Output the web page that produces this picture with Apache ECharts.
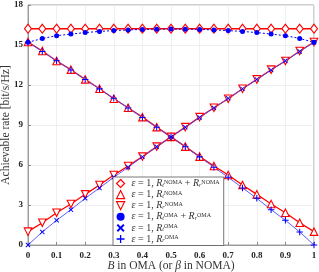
<!DOCTYPE html>
<html><head><meta charset="utf-8">
<script src="https://cdn.jsdelivr.net/npm/echarts@6/dist/echarts.min.js"></script>
<style>html,body{margin:0;padding:0;background:#fff}#c{width:319px;height:272px}</style>
</head><body><div id="c"></div>
<script>
const betaValues = [0,0.05,0.1,0.15,0.2,0.25,0.3,0.35,0.4,0.45,0.5,0.55,0.6,0.65,0.7,0.75,0.8,0.85,0.9,0.95,1];
const nomaSum = [16.22,16.22,16.22,16.22,16.22,16.22,16.22,16.22,16.22,16.22,16.22,16.22,16.22,16.22,16.22,16.22,16.22,16.22,16.22,16.22,16.22];
const nomaT = [15.22,14.55,13.8,13.15,12.42,11.72,10.97,10.29,9.59,8.84,8.11,7.38,6.63,5.93,5.25,4.5,3.8,3.07,2.42,1.67,1.0];
const nomaR = [1.0,1.67,2.42,3.07,3.8,4.5,5.25,5.93,6.63,7.38,8.11,8.84,9.59,10.29,10.97,11.72,12.42,13.15,13.8,14.55,15.22];
const omaSum = [15.2,15.49,15.7,15.82,15.93,16.02,16.08,16.13,16.17,16.19,16.2,16.19,16.17,16.13,16.08,16.02,15.93,15.82,15.7,15.49,15.2];
const omaT = [15.2,14.51,13.82,13.12,12.42,11.71,11.0,10.28,9.56,8.83,8.1,7.37,6.61,5.83,5.08,4.28,3.5,2.65,1.85,0.98,0];
const omaR = [0,0.98,1.85,2.65,3.5,4.28,5.08,5.83,6.61,7.37,8.1,8.83,9.56,10.28,11.0,11.71,12.42,13.12,13.82,14.51,15.2];
const xTicks = ['0','0.1','0.2','0.3','0.4','0.5','0.6','0.7','0.8','0.9','1'];
const yTicks = ['0','3','6','9','12','15','18'];

const legendLabels = {
  s1: '{it|ε} = 1, {it|R}{sub|t}{sup|NOMA} + {it|R}{sub|r}{sup|NOMA}',
  s2: '{it|ε} = 1, {it|R}{sub|t}{sup|NOMA}',
  s3: '{it|ε} = 1, {it|R}{sub|r}{sup|NOMA}',
  s4: '{it|ε} = 1, {it|R}{sub|t}{sup|OMA} + {it|R}{sub|r}{sup|OMA}',
  s5: '{it|ε} = 1, {it|R}{sub|t}{sup|OMA}',
  s6: '{it|ε} = 1, {it|R}{sub|r}{sup|OMA}'
};
const pair = arr => betaValues.map((b,i)=>[b,arr[i]]);
const RED = '#ff0000', BLUE = '#0000ff';
const plusPath = 'path://M4.2,0H5.8V4.2H10V5.8H5.8V10H4.2V5.8H0V4.2H4.2Z';
const serif = '"Liberation Serif","DejaVu Serif",serif';

const series = [
  {name:'s1', data:pair(nomaSum), symbol:'diamond', symbolSize:[7,9], color:RED,
   lineStyle:{color:RED,width:1.3}, itemStyle:{color:'#fff',borderColor:RED,borderWidth:1.1}},
  {name:'s2', data:pair(nomaT), symbol:'triangle', symbolSize:7.5, color:RED,
   lineStyle:{color:RED,width:1.3}, itemStyle:{color:'#fff',borderColor:RED,borderWidth:1.1}},
  {name:'s3', data:pair(nomaR), symbol:'triangle', symbolRotate:180, symbolSize:7.5, color:RED,
   lineStyle:{color:RED,width:1.3}, itemStyle:{color:'#fff',borderColor:RED,borderWidth:1.1}},
  {name:'s4', data:pair(omaSum), symbol:'circle', symbolSize:5, color:BLUE,
   lineStyle:{color:BLUE,width:1,type:[2,2]}, itemStyle:{color:BLUE}},
  {name:'s5', data:pair(omaR), symbol:plusPath, symbolRotate:45, symbolSize:6, color:BLUE,
   lineStyle:{color:'#4d4dff',width:0.9}, itemStyle:{color:BLUE}},
  {name:'s6', data:pair(omaT), symbol:plusPath, symbolSize:6.5, color:BLUE,
   lineStyle:{color:'#4d4dff',width:0.9}, itemStyle:{color:BLUE}}
].map(s=>Object.assign({type:'line', showSymbol:true, animation:false, z:2}, s));

const legendData = [
  {name:'s1', icon:'diamond', itemStyle:{color:'#fff',borderColor:RED,borderWidth:1.2}},
  {name:'s2', icon:'triangle', itemStyle:{color:'#fff',borderColor:RED,borderWidth:1.2}},
  {name:'s3', icon:'path://M0,0H10L5,10Z', itemStyle:{color:'#fff',borderColor:RED,borderWidth:1.2}},
  {name:'s4', icon:'circle', itemStyle:{color:BLUE}},
  {name:'s5', icon:'path://M2.8,1.6L5,3.8L7.2,1.6L8.4,2.8L6.2,5L8.4,7.2L7.2,8.4L5,6.2L2.8,8.4L1.6,7.2L3.8,5L1.6,2.8Z', itemStyle:{color:BLUE}},
  {name:'s6', icon:plusPath, itemStyle:{color:BLUE}}
];

const tickLbl = {fontFamily:serif, fontWeight:'bold', fontSize:9, color:'#222'};
const chart = echarts.init(document.getElementById('c'), null, {renderer:'canvas'});
chart.setOption({
  animation:false,
  backgroundColor:'#fff',
  grid:{left:28, right:5, top:5, bottom:27, containLabel:false, outerBoundsMode:'none',
    show:true, borderColor:'#888', borderWidth:0.8, backgroundColor:'#fff'},
  xAxis:[{type:'value', min:0, max:1, interval:0.1,
    axisLine:{show:true,lineStyle:{color:'#888',width:0.8}},
    axisTick:{inside:true,length:3,lineStyle:{color:'#888'}},
    splitLine:{show:true,lineStyle:{color:'#ebebeb',width:0.8}},
    axisLabel:Object.assign({margin:6, formatter:(v)=>{const s=xTicks.find(t=>Math.abs(parseFloat(t)-v)<1e-6);return s===undefined?'':s;}}, tickLbl),
    name:'{it|B} in OMA (or {it|β} in NOMA)', nameLocation:'middle', nameGap:15, nameMoveOverlap:false,
    nameTextStyle:{fontFamily:serif, fontSize:11.5, color:'#333', rich:{it:{fontFamily:serif,fontStyle:'italic',fontSize:11.5,color:'#333'}}}
  }],
  yAxis:[{type:'value', min:0, max:18, interval:3,
    axisLine:{show:true,lineStyle:{color:'#888',width:0.8}},
    axisTick:{inside:true,length:3,lineStyle:{color:'#888'}},
    splitLine:{show:true,lineStyle:{color:'#ebebeb',width:0.8}},
    axisLabel:Object.assign({margin:5, formatter:(v)=>{const s=yTicks.find(t=>Math.abs(parseFloat(t)-v)<1e-6);return s===undefined?'':s;}}, tickLbl),
    name:'Achievable rate [bit/s/Hz]', nameLocation:'middle', nameGap:16, nameMoveOverlap:false,
    nameTextStyle:{fontFamily:serif, fontSize:11.5, color:'#333'}
  }],
  legend:{orient:'vertical', left:113, top:177, itemWidth:8, itemHeight:8, itemGap:1.1,
    padding:[1.5,4,1.5,3], backgroundColor:'#fff', borderColor:'#555', borderWidth:0.8, borderRadius:0,
    data:legendData, selectedMode:false,
    formatter:(n)=>legendLabels[n],
    textStyle:{fontFamily:serif, fontSize:10, color:'#333', lineHeight:9, padding:[0,0,0,2],
      rich:{
        it:{fontFamily:serif, fontStyle:'italic', fontSize:10, color:'#333', lineHeight:9},
        sub:{fontFamily:serif, fontStyle:'italic', fontSize:6, color:'#333', verticalAlign:'bottom', lineHeight:9},
        sup:{fontFamily:serif, fontSize:6, color:'#333', verticalAlign:'top', lineHeight:9}
      }}
  },
  series:series
});
</script></body></html>
